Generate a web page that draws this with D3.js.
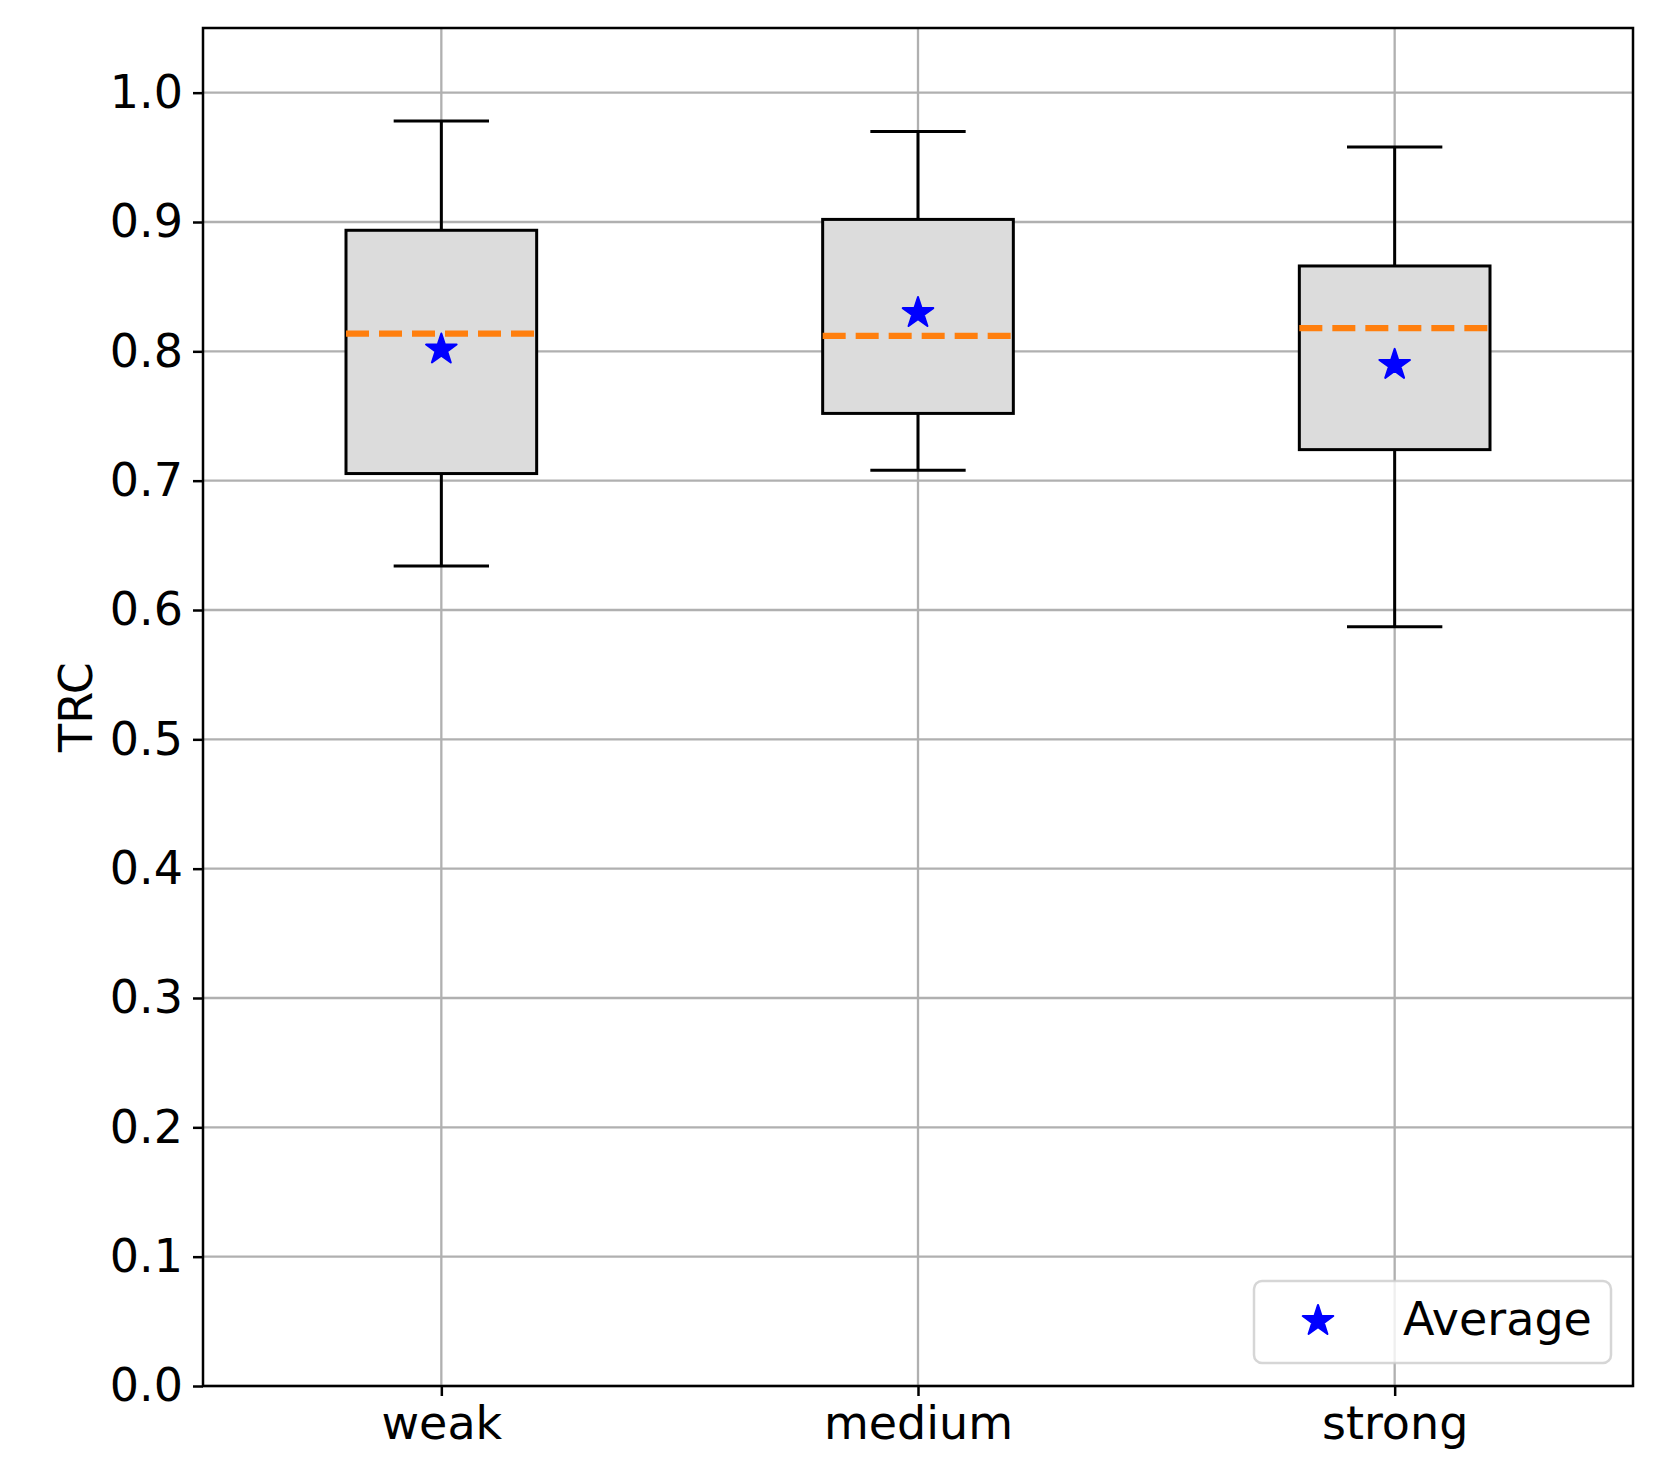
<!DOCTYPE html>
<html>
<head>
<meta charset="utf-8">
<script src="https://cdn.jsdelivr.net/npm/d3@7"></script>
<style>
  body { margin: 0; background: #fff; }
  text { font-family: "DejaVu Sans", sans-serif; }
</style>
</head>
<body>
<div id="chart"></div>
<script>
// Box plot statistics
const categories = ['weak', 'medium', 'strong'];
const whiskerLow = [0.634, 0.708, 0.587];
const q1 = [0.7055, 0.752, 0.724];
const medians = [0.8137, 0.812, 0.818];
const q3 = [0.8936, 0.902, 0.866];
const whiskerHigh = [0.978, 0.970, 0.958];
const means = [0.8014, 0.8296, 0.7895];
const yTicks = [0, 0.1, 0.2, 0.3, 0.4, 0.5, 0.6, 0.7, 0.8, 0.9, 1.0];

const width = 1661;
const height = 1476;
const margin = { top: 28, right: 28, bottom: 90, left: 203 };
const fontSize = 46;

const svg = d3.select('#chart')
  .append('svg')
  .attr('width', width)
  .attr('height', height);

const x = d3.scalePoint()
  .domain(categories)
  .range([margin.left, width - margin.right])
  .padding(0.5);
const y = d3.scaleLinear()
  .domain([0, 1.05])
  .range([height - margin.bottom, margin.top]);

const boxW = x.step() * 0.4;
const capW = x.step() * 0.2;

const data = categories.map((c, i) => ({
  cat: c, lo: whiskerLow[i], q1: q1[i], med: medians[i],
  q3: q3[i], hi: whiskerHigh[i], mean: means[i]
}));

// grid
const grid = svg.append('g');
grid.selectAll('.hgrid')
  .data(yTicks)
  .enter().append('line')
  .attr('x1', margin.left).attr('x2', width - margin.right)
  .attr('y1', d => y(d)).attr('y2', d => y(d))
  .attr('stroke', '#b0b0b0').attr('stroke-width', 2.3);
grid.selectAll('.vgrid')
  .data(categories)
  .enter().append('line')
  .attr('x1', d => x(d)).attr('x2', d => x(d))
  .attr('y1', margin.top).attr('y2', height - margin.bottom)
  .attr('stroke', '#b0b0b0').attr('stroke-width', 2.3);

// boxes
const boxes = svg.selectAll('.box')
  .data(data)
  .enter().append('g')
  .attr('class', 'box');

boxes.append('line')
  .attr('x1', d => x(d.cat)).attr('x2', d => x(d.cat))
  .attr('y1', d => y(d.q3)).attr('y2', d => y(d.hi))
  .attr('stroke', '#000').attr('stroke-width', 3);
boxes.append('line')
  .attr('x1', d => x(d.cat)).attr('x2', d => x(d.cat))
  .attr('y1', d => y(d.q1)).attr('y2', d => y(d.lo))
  .attr('stroke', '#000').attr('stroke-width', 3);
boxes.append('line')
  .attr('x1', d => x(d.cat) - capW / 2).attr('x2', d => x(d.cat) + capW / 2)
  .attr('y1', d => y(d.hi)).attr('y2', d => y(d.hi))
  .attr('stroke', '#000').attr('stroke-width', 3);
boxes.append('line')
  .attr('x1', d => x(d.cat) - capW / 2).attr('x2', d => x(d.cat) + capW / 2)
  .attr('y1', d => y(d.lo)).attr('y2', d => y(d.lo))
  .attr('stroke', '#000').attr('stroke-width', 3);
boxes.append('rect')
  .attr('x', d => x(d.cat) - boxW / 2)
  .attr('width', boxW)
  .attr('y', d => y(d.q3))
  .attr('height', d => y(d.q1) - y(d.q3))
  .attr('fill', '#dcdcdc')
  .attr('stroke', '#000').attr('stroke-width', 3);
boxes.append('line')
  .attr('x1', d => x(d.cat) - boxW / 2).attr('x2', d => x(d.cat) + boxW / 2)
  .attr('y1', d => y(d.med)).attr('y2', d => y(d.med))
  .attr('stroke', '#ff7f0e').attr('stroke-width', 6.2)
  .attr('stroke-dasharray', '23,10');

const star = d3.symbol().type(d3.symbolStar).size(290);
boxes.append('path')
  .attr('d', star)
  .attr('transform', d => `translate(${x(d.cat)},${y(d.mean)})`)
  .attr('fill', '#0000ff')
  .attr('stroke', '#0000ff').attr('stroke-width', 2).attr('stroke-linejoin', 'round');

// spines
svg.append('rect')
  .attr('x', margin.left).attr('y', margin.top)
  .attr('width', width - margin.left - margin.right)
  .attr('height', height - margin.top - margin.bottom)
  .attr('fill', 'none').attr('stroke', '#000').attr('stroke-width', 2.5);

// axes
const yAxis = svg.append('g')
  .attr('transform', `translate(${margin.left},0)`)
  .call(d3.axisLeft(y).tickValues(yTicks).tickFormat(d3.format('.1f')).tickSize(10).tickPadding(10));
const xAxis = svg.append('g')
  .attr('transform', `translate(0,${height - margin.bottom})`)
  .call(d3.axisBottom(x).tickSize(10).tickPadding(10));
[yAxis, xAxis].forEach(a => {
  a.select('.domain').remove();
  a.selectAll('line').attr('stroke', '#000').attr('stroke-width', 2.5);
  a.selectAll('text').attr('fill', '#000')
    .style('font-size', fontSize + 'px')
    .style('font-family', '"DejaVu Sans", sans-serif');
});

svg.append('text')
  .attr('transform', `translate(92,${(margin.top + height - margin.bottom) / 2}) rotate(-90)`)
  .style('text-anchor', 'middle')
  .style('font-size', fontSize + 'px')
  .text('TRC');

// legend
const lg = svg.append('g').attr('transform', 'translate(1254,1281)');
lg.append('rect')
  .attr('width', 357).attr('height', 82).attr('rx', 8)
  .attr('fill', '#fff').attr('fill-opacity', 0.8)
  .attr('stroke', '#cccccc').attr('stroke-opacity', 0.8).attr('stroke-width', 2.5);
lg.append('path')
  .attr('d', star)
  .attr('transform', 'translate(64,40)')
  .attr('fill', '#0000ff')
  .attr('stroke', '#0000ff').attr('stroke-width', 2).attr('stroke-linejoin', 'round');
lg.append('text')
  .attr('x', 149).attr('y', 54)
  .style('font-size', fontSize + 'px')
  .text('Average');
</script>
</body>
</html>
